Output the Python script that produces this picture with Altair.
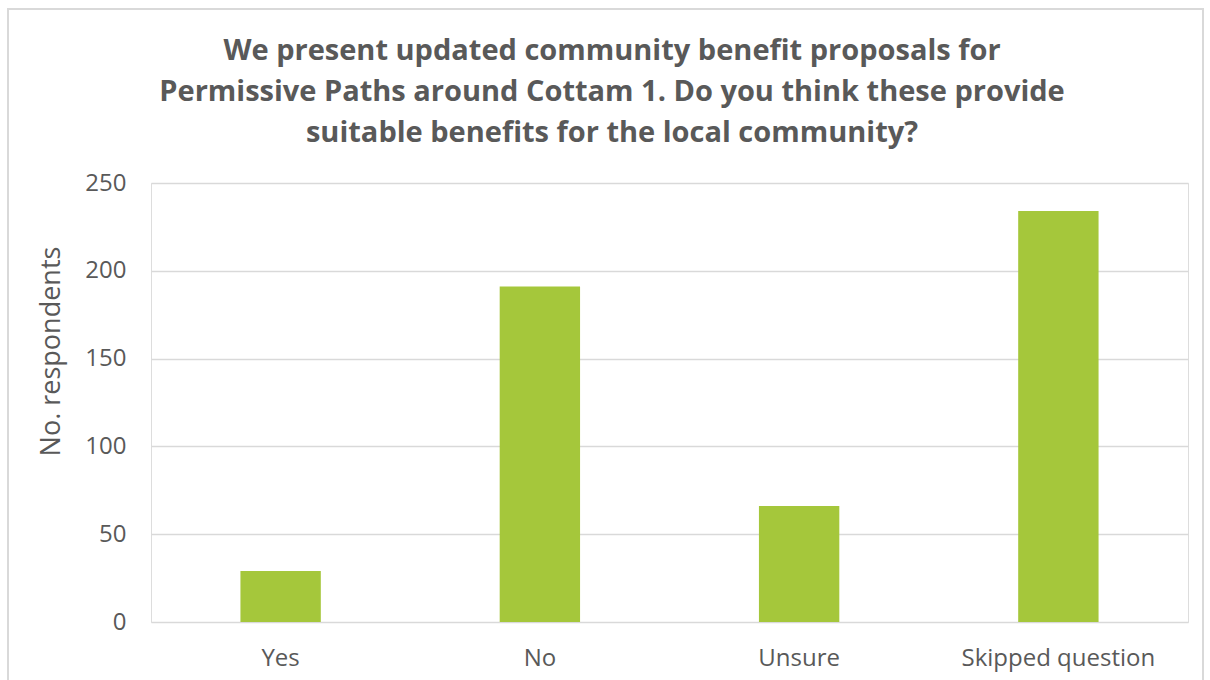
import altair as alt
import pandas as pd

categories = ["Yes", "No", "Unsure", "Skipped question"]
values = [29, 191, 66, 234]

title_lines = [
    "We present updated community benefit proposals for",
    "Permissive Paths around Cottam 1. Do you think these provide",
    "suitable benefits for the local community?",
]

df = pd.DataFrame({"category": categories, "respondents": values})

FONT = "Open Sans"
TEXT = "#595959"
LEFT, TOP = 151, 183

bars = alt.Chart(df).mark_bar(color="#A5C73B").encode(
    x=alt.X(
        "category:N",
        sort=categories,
        scale=alt.Scale(paddingInner=0.69, paddingOuter=0.345),
        axis=alt.Axis(
            title=None, labelAngle=0, labelFontSize=24, labelColor=TEXT,
            labelFont=FONT, labelPadding=24, labelLimit=0,
            ticks=False, domain=False,
        ),
    ),
    y=alt.Y(
        "respondents:Q",
        scale=alt.Scale(domain=[0, 250]),
        axis=alt.Axis(
            values=[0, 50, 100, 150, 200, 250], title="No. respondents",
            titleFontSize=27, titleFontWeight="normal", titleColor=TEXT,
            titleFont=FONT, titleX=-92, titleY=168, titleAlign="center",
            titleBaseline="alphabetic", titleAngle=270,
            labelFontSize=24, labelColor=TEXT, labelFont=FONT, labelPadding=25,
            ticks=False, domain=False, gridColor="#D9D9D9", gridWidth=1.5,
        ),
    ),
)

border = alt.Chart(df).mark_rect(
    fill=None, stroke="#D9D9D9", strokeWidth=2
).encode(
    x=alt.value(8 - LEFT), x2=alt.value(1203 - LEFT),
    y=alt.value(9 - TOP), y2=alt.value(700 - TOP)
)

title_baselines = [60, 101, 142]
title_layers = []
for line, yb in zip(title_lines, title_baselines):
    title_layers.append(
        alt.Chart(pd.DataFrame({"t": [line]})).mark_text(
            font=FONT, fontSize=29, fontWeight="bold", color=TEXT,
            align="center", baseline="alphabetic",
        ).encode(text="t:N", x=alt.value(612 - LEFT), y=alt.value(yb - TOP))
    )

chart = alt.layer(border, bars, *title_layers).properties(
    width=1037,
    height=439,
    padding={"left": LEFT, "top": TOP, "right": 22, "bottom": 58},
    autosize=alt.AutoSizeParams(type="none"),
).configure_view(stroke=None).configure(background="white")

chart.save("out.html", embed_options={"renderer": "svg", "actions": False})
